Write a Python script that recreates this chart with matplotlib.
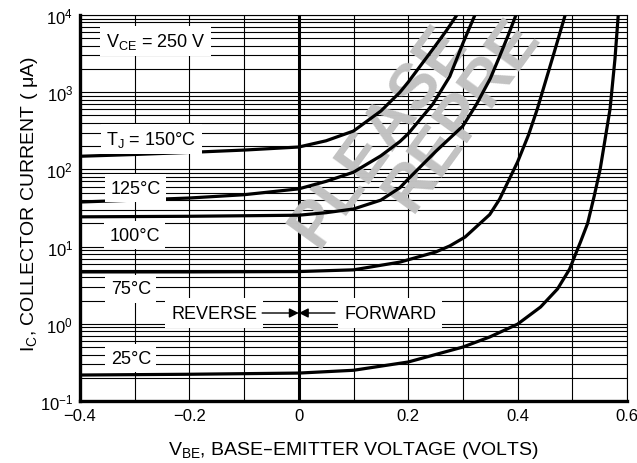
import numpy as np
import matplotlib
matplotlib.use("Agg")
import matplotlib.pyplot as plt
from matplotlib.ticker import MultipleLocator, LogLocator, FixedLocator

plt.rcParams['font.family'] = ['Liberation Sans', 'DejaVu Sans']
plt.rcParams['font.size'] = 12

# curves: V_BE (volts) vs I_C (uA)
v150 = [-0.4, -0.3, -0.2, -0.1, 0.0, 0.05, 0.1, 0.15, 0.185, 0.2, 0.245, 0.27, 0.289]
i150 = [148, 156, 166, 178, 195, 235, 314, 570, 1000, 1350, 3600, 6300, 10000]

v125 = [-0.4, -0.3, -0.2, -0.1, 0.0, 0.05, 0.1, 0.15, 0.185, 0.2, 0.245, 0.276, 0.3, 0.322]
i125 = [37.8, 40, 42.6, 47, 56, 70, 92, 150, 230, 290, 700, 1600, 4300, 10000]

v100 = [-0.4, -0.2, 0.0, 0.05, 0.1, 0.15, 0.185, 0.2, 0.25, 0.3, 0.325, 0.35, 0.367, 0.383, 0.397]
i100 = [24.3, 24.7, 25.5, 27.5, 30.7, 40, 58, 75, 170, 365, 700, 1500, 2900, 5500, 10000]

v75 = [-0.4, -0.2, 0.0, 0.1, 0.185, 0.25, 0.276, 0.304, 0.349, 0.367, 0.4, 0.42, 0.436, 0.467, 0.487]
i75 = [4.7, 4.7, 4.75, 5.0, 6.3, 8.5, 10.2, 13.3, 26, 41, 125, 280, 605, 3300, 10000]

v25 = [-0.4, -0.2, 0.0, 0.1, 0.2, 0.3, 0.349, 0.4, 0.442, 0.473, 0.495, 0.506, 0.515, 0.528,
       0.54, 0.551, 0.569, 0.578, 0.584]
i25 = [0.217, 0.222, 0.23, 0.25, 0.32, 0.5, 0.675, 0.99, 1.65, 2.83, 5.1, 8.0, 11.5, 20,
       45, 101, 605, 2700, 10000]

xticks = [-0.4, -0.2, 0.0, 0.2, 0.4, 0.6]
xlabels = ['\u22120.4', '\u22120.2', '0', '0.2', '0.4', '0.6']

fig = plt.figure(figsize=(6.37, 4.64), dpi=100)
ax = fig.add_axes([80/637, 1-402/464, 547/637, 386/464])

ax.set_yscale('log')
ax.set_xlim(-0.4, 0.6)
ax.set_ylim(0.1, 1e4)

ax.xaxis.set_major_locator(FixedLocator(xticks))
ax.set_xticklabels(xlabels)
ax.xaxis.set_minor_locator(MultipleLocator(0.1))
ax.yaxis.set_major_locator(LogLocator(base=10, numticks=10))
ax.yaxis.set_minor_locator(LogLocator(base=10, subs=np.arange(2, 10), numticks=20))
ax.yaxis.set_minor_formatter(plt.NullFormatter())

ax.set_axisbelow(True)
ax.grid(True, which='both', axis='both', color='black', lw=0.8)
ax.axvline(0, color='black', lw=2.2, zorder=1)

ax.tick_params(which='both', length=0, labelsize=12)
ax.tick_params(axis='x', pad=5)
ax.tick_params(axis='y', pad=5)

for s in ['left', 'bottom']:
    ax.spines[s].set_linewidth(2.4)
for s in ['top', 'right']:
    ax.spines[s].set_linewidth(0.8)

# watermark (only the part that shows in the picture)
wm = dict(transform=fig.transFigure, color='#c2c2c2', fontsize=46, fontweight='bold',
          rotation=54, rotation_mode='anchor', ha='left', va='baseline', zorder=2, clip_on=False)
ax.text(318/637, 1-250/464, 'PLEASE', **wm)
ax.text(412/637, 1-214/464, 'REPRE', **wm)

for v, i in [(v150, i150), (v125, i125), (v100, i100), (v75, i75), (v25, i25)]:
    ax.plot(v, i, color='black', lw=2.3, solid_joinstyle='round', zorder=3)

fs = 13
box = dict(boxstyle='square,pad=0.3', fc='white', ec='none')
ax.text(-0.262, 4600, 'V$_{\\mathregular{CE}}$ = 250 V', ha='center', va='center', bbox=box, zorder=4, fontsize=fs)
ax.text(-0.270, 248, 'T$_{\\mathregular{J}}$ = 150\u00b0C', ha='center', va='center', bbox=box, zorder=4, fontsize=fs)
ax.text(-0.298, 57, '125\u00b0C', ha='center', va='center', bbox=box, zorder=4, fontsize=fs)
ax.text(-0.300, 14.1, '100\u00b0C', ha='center', va='center', bbox=box, zorder=4, fontsize=fs)
ax.text(-0.307, 2.83, '75\u00b0C', ha='center', va='center', bbox=box, zorder=4, fontsize=fs)
ax.text(-0.307, 0.36, '25\u00b0C', ha='center', va='center', bbox=box, zorder=4, fontsize=fs)
ax.text(-0.155, 1.38, 'REVERSE', ha='center', va='center', zorder=4, fontsize=fs,
        bbox=dict(boxstyle='square,pad=0.35', fc='white', ec='none'))
ax.text(0.167, 1.38, 'FORWARD', ha='center', va='center', zorder=4, fontsize=fs,
        bbox=dict(boxstyle='square,pad=0.35', fc='white', ec='none'))
arrow = dict(arrowstyle='-|>', color='black', lw=1.0, mutation_scale=14, shrinkA=0, shrinkB=0)
ax.annotate('', xy=(0, 1.38), xytext=(-0.067, 1.38), arrowprops=arrow, zorder=4)
ax.annotate('', xy=(0, 1.38), xytext=(0.066, 1.38), arrowprops=arrow, zorder=4)

ax.set_xlabel('V$_{\\mathregular{BE}}$, BASE\u2013EMITTER VOLTAGE (VOLTS)', fontsize=14)
ax.xaxis.set_label_coords(0.5, (402-451)/386)
ax.xaxis.label.set_va('center')
ax.set_ylabel('I$_{\\mathregular{C}}$, COLLECTOR CURRENT ( \u03bcA)', fontsize=14)
ax.yaxis.set_label_coords((29-80)/547, (402-204)/386)
ax.yaxis.label.set_va('center')

fig.savefig('out.png', dpi=100)
